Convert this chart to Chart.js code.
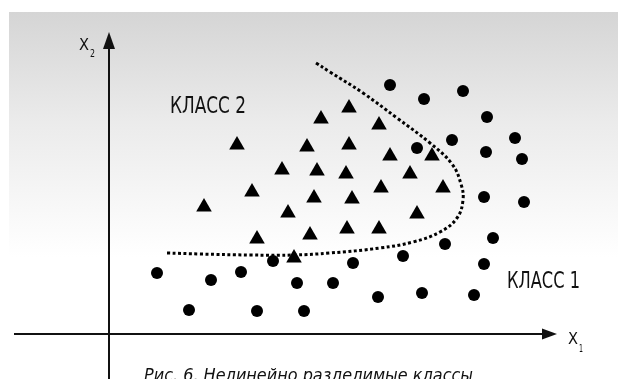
<!DOCTYPE html>
<html>
<head>
<meta charset="utf-8">
<script src="https://cdn.jsdelivr.net/npm/chart.js@4.4.1/dist/chart.umd.min.js"></script>
<style>
  html, body { margin: 0; padding: 0; background: #fff; overflow: hidden; }
  canvas { display: block; }
</style>
</head>
<body>
<canvas id="chart" width="618" height="379"></canvas>
<script>
// Class 2 (triangles) in x1/x2 units
const class2X = [21.2, 12.8, 19.8, 17.3, 20.8, 24.0, 27.0, 24.0, 28.1, 32.3, 23.7, 30.1, 14.3,
  9.5, 20.5, 17.9, 14.8, 20.1, 18.5, 27.2, 33.4, 24.3, 30.8, 23.8, 27.0];
const class2Y = [21.5, 18.9, 18.7, 16.4, 16.3, 22.6, 20.9, 18.9, 17.8, 17.8, 16.0, 16.0, 14.2,
  12.7, 13.6, 12.1, 9.5, 9.9, 7.6, 14.6, 14.6, 13.5, 12.0, 10.5, 10.5];

// Class 1 (circles)
const class1X = [28.1, 31.5, 35.4, 37.8, 40.6, 34.3, 37.7, 41.3, 30.8, 37.5, 41.5, 38.4, 33.6, 29.4,
  4.8, 10.2, 13.2, 16.4, 18.8, 22.4, 8.0, 14.8, 19.5, 24.4, 37.5, 26.9, 31.3, 36.5];
const class1Y = [24.9, 23.5, 24.3, 21.7, 19.6, 19.4, 18.2, 17.5, 18.6, 13.7, 13.2, 9.6, 9.0, 7.8,
  6.1, 5.4, 6.2, 7.3, 5.1, 5.1, 2.4, 2.3, 2.3, 7.1, 7.0, 3.7, 4.1, 3.9];

// Dotted separating curve
const boundaryX = [20.7, 22.1, 25.4, 28.8, 32.1, 34.3, 35.2, 35.4, 34.8, 33.1, 30.4, 27.1, 22.1, 18.5, 14.1, 9.1, 5.8];
const boundaryY = [27.1, 26.2, 24.1, 21.6, 19.1, 17.0, 15.0, 13.4, 11.6, 10.2, 9.2, 8.6, 8.1, 7.9, 7.9, 8.0, 8.1];

const labelClass1 = "КЛАСС 1";
const labelClass2 = "КЛАСС 2";
const caption = "Рис. 6. Нелинейно разделимые классы";

const toPoints = (xs, ys) => xs.map((x, i) => ({ x, y: ys[i] }));

const NARROW = '"Liberation Sans Narrow", "DejaVu Sans Condensed", "Liberation Sans", sans-serif';

// draw text squeezed to a given width, like the condensed face of the original
const fitText = (ctx, text, x, y, font, width) => {
  ctx.font = font;
  const w = ctx.measureText(text).width;
  ctx.save();
  ctx.translate(x, y);
  ctx.scale(width / w, 1);
  ctx.fillText(text, 0, 0);
  ctx.restore();
};

const backdrop = {
  id: "backdrop",
  beforeDraw(chart) {
    const { ctx } = chart;
    const grad = ctx.createLinearGradient(0, 12, 0, 257);
    grad.addColorStop(0, "#d5d5d5");
    grad.addColorStop(0.45, "#ebebeb");
    grad.addColorStop(1, "#ffffff");
    ctx.save();
    ctx.fillStyle = grad;
    ctx.fillRect(9, 12, chart.width - 9, 245);
    ctx.restore();
  },
};

const axesAndText = {
  id: "axesAndText",
  beforeDatasetsDraw(chart) {
    const { ctx, scales: { x, y } } = chart;
    const ox = x.getPixelForValue(0);
    const oy = y.getPixelForValue(0);
    const xEnd = x.getPixelForValue(44.8);
    const yEnd = y.getPixelForValue(30.2);
    ctx.save();
    ctx.strokeStyle = "#111";
    ctx.fillStyle = "#111";
    ctx.lineWidth = 2;
    ctx.beginPath();
    ctx.moveTo(x.getPixelForValue(-9.5), oy);
    ctx.lineTo(xEnd - 8, oy);
    ctx.moveTo(ox, y.getPixelForValue(-4.5));
    ctx.lineTo(ox, yEnd + 8);
    ctx.stroke();
    // arrow heads
    ctx.beginPath();
    ctx.moveTo(xEnd, oy);
    ctx.lineTo(xEnd - 15, oy - 5.5);
    ctx.lineTo(xEnd - 15, oy + 5.5);
    ctx.closePath();
    ctx.fill();
    ctx.beginPath();
    ctx.moveTo(ox, yEnd);
    ctx.lineTo(ox - 6, yEnd + 17);
    ctx.lineTo(ox + 6, yEnd + 17);
    ctx.closePath();
    ctx.fill();

    ctx.textBaseline = "alphabetic";
    ctx.textAlign = "left";
    // axis names
    fitText(ctx, "X", ox - 30, yEnd + 18, "16px " + NARROW, 10);
    fitText(ctx, "2", ox - 19, yEnd + 25, "10px " + NARROW, 5);
    fitText(ctx, "X", xEnd + 11, oy + 10, "16px " + NARROW, 10);
    fitText(ctx, "1", xEnd + 22, oy + 18, "10px " + NARROW, 4);
    // class names
    fitText(ctx, labelClass2, x.getPixelForValue(6.1), y.getPixelForValue(22.1), "23px " + NARROW, 76);
    fitText(ctx, labelClass1, x.getPixelForValue(39.8), y.getPixelForValue(4.6), "23px " + NARROW, 73);
    // figure caption, cut by the bottom edge as in the source
    fitText(ctx, caption, x.getPixelForValue(3.5), y.getPixelForValue(-4.7), "italic 18px " + NARROW, 329);
    ctx.restore();
  },
};

new Chart(document.getElementById("chart").getContext("2d"), {
  type: "scatter",
  data: {
    datasets: [
      {
        data: toPoints(boundaryX, boundaryY),
        showLine: true,
        pointRadius: 0,
        borderColor: "#000",
        borderWidth: 3,
        borderDash: [3, 2.5],
        tension: 0.4,
        fill: false,
      },
      {
        data: toPoints(class2X, class2Y),
        pointStyle: "triangle",
        pointRadius: 9,
        borderWidth: 0,
        backgroundColor: "#000",
        borderColor: "#000",
      },
      {
        data: toPoints(class1X, class1Y),
        pointStyle: "circle",
        pointRadius: 6,
        borderWidth: 0,
        backgroundColor: "#000",
        borderColor: "#000",
      },
    ],
  },
  options: {
    responsive: false,
    animation: false,
    layout: { padding: 0, autoPadding: false },
    scales: {
      x: { type: "linear", min: -10.9, max: 50.9, display: false },
      y: { type: "linear", min: -4.5, max: 33.4, display: false },
    },
    plugins: {
      legend: { display: false },
      tooltip: { enabled: false },
    },
  },
  plugins: [backdrop, axesAndText],
});
</script>
</body>
</html>
